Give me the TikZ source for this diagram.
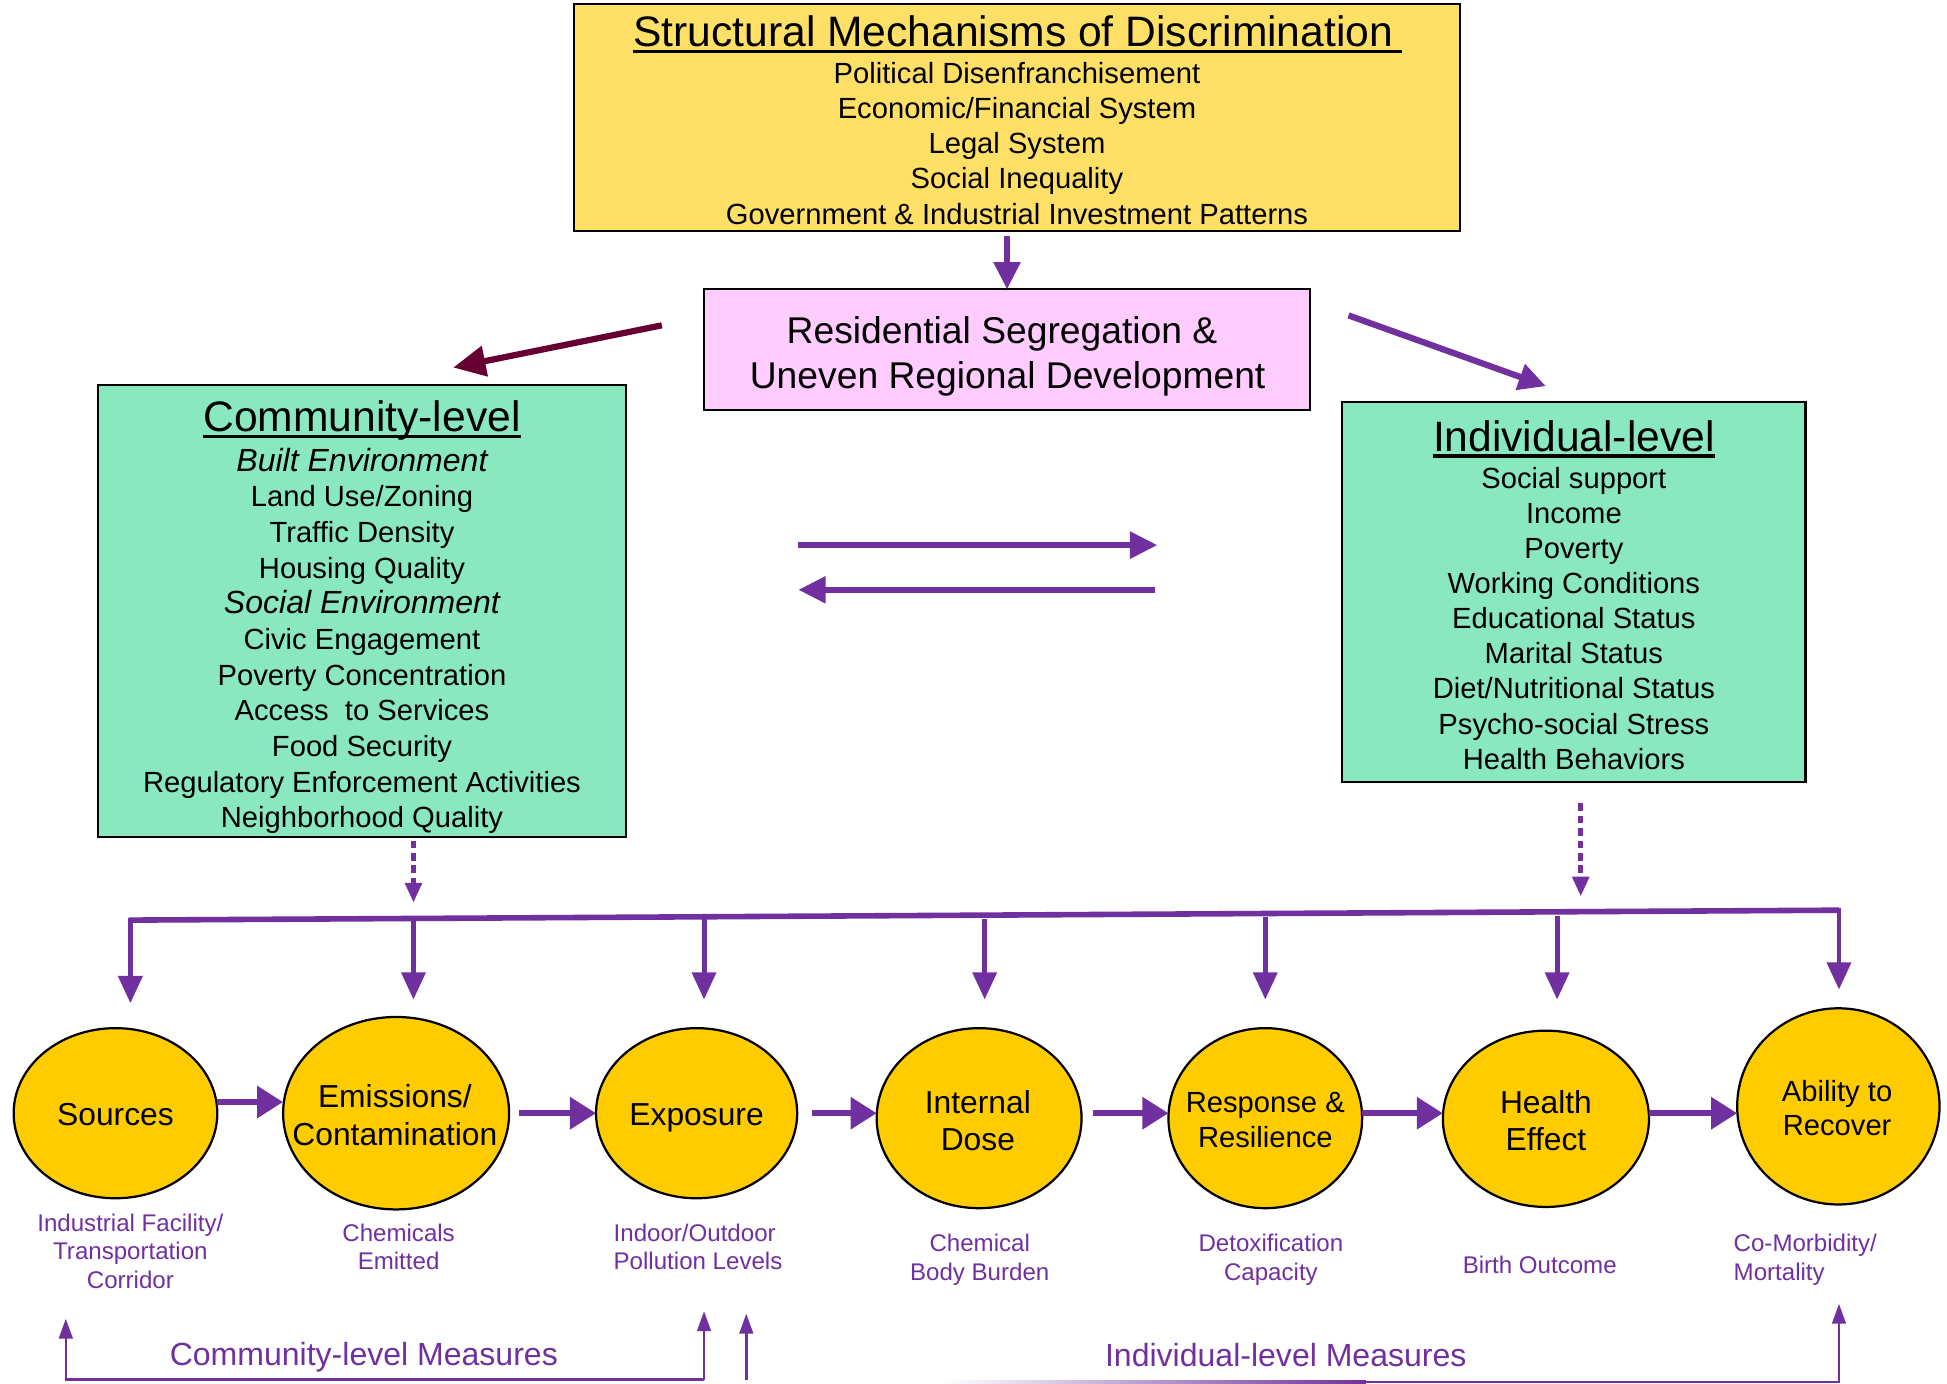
\documentclass[tikz,border=0pt]{standalone}
\usepackage{fontspec}
\setmainfont{Liberation Sans}
\usetikzlibrary{arrows.meta,shapes.geometric,calc}
\definecolor{pur}{HTML}{7030A0}
\definecolor{mar}{HTML}{660033}
\definecolor{ybox}{HTML}{FFE066}
\definecolor{pbox}{HTML}{FFCCFF}
\definecolor{gbox}{HTML}{8AE8C0}
\definecolor{ell}{HTML}{FFCC00}
\newcommand{\itl}[1]{{\fontsize{25.8}{28}\selectfont\itshape #1}}
\begin{document}
\begin{tikzpicture}[x=1pt,y=-1pt,
  box/.style={draw=black, line width=1.8pt, inner sep=0pt, outer sep=0pt},
  body/.style={font=\fontsize{23.5}{28}\selectfont, anchor=base, inner sep=0pt},
  ttl/.style={font=\fontsize{34.3}{40}\selectfont, anchor=base, inner sep=0pt},
  pinktxt/.style={font=\fontsize{30}{36}\selectfont, anchor=base, inner sep=0pt},
  uline/.style={line width=2.6pt},
  circ/.style={ellipse, draw=black, line width=1.8pt, fill=ell, inner sep=0pt, outer sep=0pt},
  ctxt/.style={align=center, inner sep=0pt, font=\fontsize{25.6}{30.5}\selectfont},
  ctxts/.style={align=center, inner sep=0pt, font=\fontsize{23.5}{27.5}\selectfont},
  lab/.style={text=pur, align=center, inner sep=0pt, font=\fontsize{19.4}{23}\selectfont},
  meas/.style={text=pur, inner sep=0pt, font=\fontsize{25.8}{30}\selectfont},
  parrow/.style={draw=pur, line width=4.5pt, -{Triangle[length=22pt,width=21pt]}},
  marrow/.style={draw=mar, line width=5pt, -{Triangle[length=26pt,width=24pt]}},
  darr/.style={draw=pur, line width=4pt, -{Triangle[length=22pt,width=19pt]}},
  earr/.style={draw=pur, line width=5pt, -{Triangle[length=21pt,width=25pt]}},
  dotarr/.style={draw=pur, line width=4pt, dash pattern=on 6pt off 4pt, -{Triangle[length=16pt,width=13pt]}},
  mline/.style={draw=pur, line width=2pt},
  mtip/.style={-{Triangle[length=16pt,width=11pt]}}
]
\useasboundingbox (0,0) rectangle (1568,1114);

% ---------- Structural box ----------
\node[box, fill=ybox, minimum width=714pt, minimum height=183pt] (smd) at (819,94.5) {};
\node[ttl] (smt) at (816,37.3) {Structural Mechanisms of Discrimination};
\draw[uline] ([yshift=-4pt]smt.base west) -- ([yshift=-4pt, xshift=7pt]smt.base east);
\foreach \t [count=\i from 0] in {Political Disenfranchisement, Economic/Financial System, Legal System, Social Inequality, Government \& Industrial Investment Patterns}
  \node[body] (s\i) at (819, 59+\i*28.25+8.4) {\t};

% ---------- Pink box ----------
\node[box, fill=pbox, minimum width=488pt, minimum height=97pt] (rsg) at (811,281.5) {};
\node[pinktxt] (r1) at (807,276.7) {Residential Segregation \&};
\node[pinktxt] (r2) at (811.5,312.7) {Uneven Regional Development};
\draw[parrow, shorten <=4pt] (smd.south -| rsg.north) -- (rsg.north);

% ---------- Community box ----------
\node[box, fill=gbox, minimum width=425pt, minimum height=364pt] (comm) at (291.5,492) {};
\node[ttl] (ct) at (291.5,347.3) {Community-level};
\draw[uline] ([yshift=-4pt]ct.base west) -- ([yshift=-4pt]ct.base east);
\foreach \t [count=\i from 0] in {\itl{Built Environment}, Land Use/Zoning, Traffic Density, Housing Quality, \itl{Social Environment}, Civic Engagement, Poverty Concentration, Access \ to Services, Food Security, Regulatory Enforcement Activities, Neighborhood Quality}
  \node[body] (c\i) at (291.5, 371+\i*28.7+8.6) {\t};

% ---------- Individual box ----------
\node[box, fill=gbox, minimum width=373pt, minimum height=306pt] (ind) at (1267.5,477) {};
\node[ttl] (it) at (1267.5,363.3) {Individual-level};
\draw[uline] ([yshift=-4pt]it.base west) -- ([yshift=-4pt]it.base east);
\foreach \t [count=\i from 0] in {Social support, Income, Poverty, Working Conditions, Educational Status, Marital Status, Diet/Nutritional Status, Psycho-social Stress, Health Behaviors}
  \node[body] (i\i) at (1267.5, 385+\i*28.25+8.4) {\t};

% ---------- diagonal and middle arrows ----------
\coordinate (dl1) at (533,262);
\coordinate (dl2) at (365,296);
\coordinate (dr1) at (1086,254);
\coordinate (dr2) at (1245,311);
\draw[marrow] (dl1) -- (dl2);
\draw[parrow, line width=5pt] (dr1) -- (dr2);
\coordinate (m1a) at (643,439);
\coordinate (m1b) at (932,439);
\coordinate (m2a) at (930,475);
\coordinate (m2b) at (643,475);
\draw[parrow] (m1a) -- (m1b);
\draw[parrow] (m2a) -- (m2b);

% ---------- dotted arrows ----------
\coordinate (cd) at (333,727);
\coordinate (rd) at (1273,722);
\draw[dotarr, shorten <=3pt] (comm.south -| cd) -- (cd);
\draw[dotarr, shorten <=17pt] (ind.south -| rd) -- (rd);

% ---------- ellipses ----------
\node[circ, minimum width=164pt, minimum height=137pt] (src) at (93,896.5) {};
\node[circ, minimum width=182pt, minimum height=155pt] (emi) at (319,896.5) {};
\node[circ, minimum width=162pt, minimum height=137pt] (exp) at (561,896.5) {};
\node[circ, minimum width=165pt, minimum height=145pt] (dose) at (788.5,900.5) {};
\node[circ, minimum width=156pt, minimum height=145pt] (resp) at (1019,900.5) {};
\node[circ, minimum width=166pt, minimum height=142pt] (hlth) at (1245,901) {};
\node[circ, minimum width=163pt, minimum height=158pt] (abil) at (1480.5,891) {};

\node[ctxt] (srct) at (93,897.5) {Sources};
\node[ctxt] (emit) at (318,898) {Emissions/\\Contamination};
\node[ctxt] (expt) at (561,900.5) {Exposure};
\node[ctxt] (doset) at (787.5,902.5) {Internal\\Dose};
\node[ctxts] (respt) at (1019,902) {Response \&\\Resilience};
\node[ctxt] (hltht) at (1245,902.5) {Health\\Effect};
\node[ctxts] (abilt) at (1479.5,892.5) {Ability to\\Recover};

% ---------- bar and down arrows ----------
\coordinate (barL) at (104,741);
\coordinate (barR) at (1481,733);
\draw[draw=pur, line width=4.5pt] (barL) -- (barR);
\coordinate (b1) at ($(barL)!{(105-104)/1377}!(barR)$);
\coordinate (b2) at ($(barL)!{(333-104)/1377}!(barR)$);
\coordinate (b3) at ($(barL)!{(567-104)/1377}!(barR)$);
\coordinate (b4) at ($(barL)!{(793-104)/1377}!(barR)$);
\coordinate (b5) at ($(barL)!{(1019-104)/1377}!(barR)$);
\coordinate (b6) at ($(barL)!{(1254-104)/1377}!(barR)$);
\draw[darr, shorten <=-2pt, shorten >=20pt] (b1) -- (b1 |- src.north);
\draw[darr, shorten <=2pt, shorten >=14pt] (b2) -- (b2 |- emi.north);
\draw[darr, shorten <=2pt, shorten >=23pt] (b3) -- (b3 |- exp.north);
\draw[darr, shorten <=3pt, shorten >=23pt] (b4) -- (b4 |- dose.north);
\draw[darr, shorten <=3pt, shorten >=23pt] (b5) -- (b5 |- resp.north);
\draw[darr, shorten <=3pt, shorten >=25pt] (b6) -- (b6 |- hlth.north);
\draw[darr, shorten <=-2pt, shorten >=15pt] (barR) -- (barR |- abil.north);

% ---------- chain arrows ----------
\draw[earr] ($(src.east)+(0,-9)$) -- ($(emi.west)+(0,-9)$);
\draw[earr, shorten <=8pt] (emi.east) -- (exp.west);
\draw[earr, shorten <=12pt] (exp.east) -- (dose.west |- exp.east);
\draw[earr, shorten <=9pt] (dose.east |- exp.east) -- (resp.west |- exp.east);
\draw[earr] (resp.east |- exp.east) -- (hlth.west |- exp.east);
\draw[earr] (hlth.east |- exp.east) -- (abil.west |- exp.east);

% ---------- labels ----------
\node[lab] (l1) at (105,1007.5) {Industrial Facility/\\Transportation\\Corridor};
\node[lab] (l2) at (321,1004) {Chemicals\\Emitted};
\node[lab, align=left, anchor=west] (l3) at (494,1004) {Indoor/Outdoor\\Pollution Levels};
\node[lab] (l4) at (789,1014.5) {Chemical\\Body Burden};
\node[lab] (l5) at (1023.5,1014.5) {Detoxification\\Capacity};
\node[lab] (l6) at (1240,1018.5) {Birth Outcome};
\node[lab, align=left, anchor=west] (l7) at (1396,1014.5) {Co-Morbidity/\\Mortality};

% ---------- measures ----------
\node[meas] (cm) at (293,1093) {Community-level Measures};
\node[meas] (im) at (1035.5,1091) {Individual-level Measures};
\coordinate (cmL) at (53,1111);
\coordinate (cmR) at (567,1111);
\coordinate (cmLt) at (53,1062);
\coordinate (cmRt) at (567,1056);
\coordinate (cxB) at (601,1111);
\coordinate (cxT) at (601,1058);
\draw[mline, mtip] (cmR) -- (cmL) -- (cmLt);
\draw[mline, mtip] (cmR) -- (cmRt);
\draw[mline, mtip] (cxB) -- (cxT);
\coordinate (imL) at (760,1112);
\coordinate (imM) at (1100,1114);
\coordinate (imR) at (1481,1113);
\coordinate (imT) at (1481,1050);
\shade[left color=white, right color=pur] (imL) rectangle (imM);
\draw[mline, mtip] (imM |- imR) -- (imR) -- (imT);
\end{tikzpicture}
\end{document}
